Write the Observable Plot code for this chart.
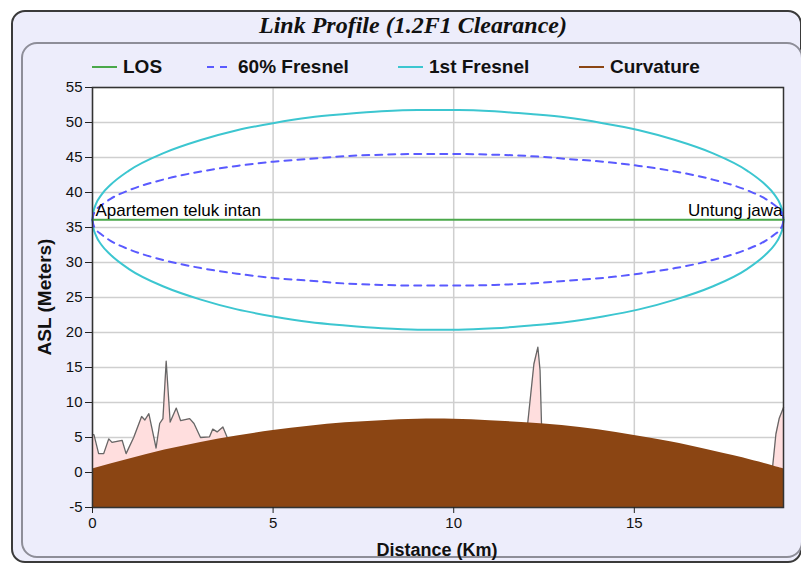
<!DOCTYPE html>
<html><head><meta charset="utf-8">
<script src="https://cdn.jsdelivr.net/npm/d3@7"></script>
<script src="https://cdn.jsdelivr.net/npm/@observablehq/plot@0.6"></script>
<style>
body{margin:0;background:#fff;font-family:"Liberation Sans",Arial,sans-serif;}
#root{position:relative;width:801px;height:566px;overflow:hidden;background:#fff;}
.outer{position:absolute;left:11px;top:10px;width:791px;height:553px;box-sizing:border-box;border:2px solid #3a3a3a;border-radius:14px;background:#ededfb;}
.inner{position:absolute;left:21px;top:42px;width:782px;height:516px;box-sizing:border-box;border:2px solid #8e8e98;border-radius:16px;background:#ededfb;}
.title{position:absolute;left:213px;top:10px;width:400px;text-align:center;font-family:"Liberation Serif","Times New Roman",serif;font-style:italic;font-weight:bold;font-size:24px;color:#111;line-height:30px;}
.leg{position:absolute;top:56px;height:22px;display:flex;align-items:center;font-weight:bold;font-size:19px;color:#111;white-space:nowrap;}
.leg svg{margin-right:6px;}
.axt{position:absolute;font-weight:bold;font-size:18px;color:#111;white-space:nowrap;}
#chart{position:absolute;left:21px;top:70px;}
</style></head>
<body><div id="root">
<div class="outer"></div>
<div class="inner"></div>
<div class="title">Link Profile (1.2F1 Clearance)</div>
<div id="legend"></div>
<div class="axt" id="ylab" style="left:45px;top:297px;font-size:19px;transform:translate(-50%,-50%) rotate(-90deg);">ASL (Meters)</div>
<div class="axt" style="left:437px;top:550px;transform:translate(-50%,-50%);">Distance (Km)</div>
<div id="chart"></div>
</div>
<script>
// ---- data ----
const siteNames = ["Apartemen teluk intan", "Untung jawa"];
const losDist = [0, 19.13];
const losHeight = [36.1, 36.1];

const fresnelDist = [0, 0.02, 0.1, 0.25, 0.5, 1, 2, 3, 4, 5, 6, 7, 8, 9, 9.565, 10.13, 11.13, 12.13, 13.13, 14.13, 15.13, 16.13, 17.13, 18.13, 18.63, 18.88, 19.03, 19.11, 19.13];
const fresnel1Radius = [0, 1.0, 2.3, 3.6, 5.0, 7.0, 9.6, 11.4, 12.8, 13.8, 14.6, 15.1, 15.5, 15.7, 15.7, 15.7, 15.5, 15.1, 14.6, 13.8, 12.8, 11.4, 9.6, 7.0, 5.0, 3.6, 2.3, 1.0, 0];
const fresnel60Radius = [0, 0.6, 1.4, 2.1, 3.0, 4.2, 5.8, 6.9, 7.7, 8.3, 8.7, 9.1, 9.3, 9.4, 9.4, 9.4, 9.3, 9.1, 8.7, 8.3, 7.7, 6.9, 5.8, 4.2, 3.0, 2.1, 1.4, 0.6, 0];

const curvDist = [0, 1, 2, 3, 4, 5, 6, 7, 8, 9, 10, 11, 12, 13, 14, 15, 16, 17, 18, 19, 19.13];
const curvHeight = [0.5, 1.9, 3.2, 4.3, 5.2, 6.0, 6.6, 7.1, 7.4, 7.6, 7.6, 7.4, 7.1, 6.7, 6.1, 5.3, 4.4, 3.3, 2.1, 0.7, 0.5];

const terrainDist = [0, 0.04, 0.17, 0.31, 0.45, 0.54, 0.82, 0.93, 1.14, 1.36, 1.45, 1.56, 1.76, 1.86, 1.95, 2.04, 2.15, 2.32, 2.44, 2.69, 2.81, 2.99, 3.24, 3.33, 3.45, 3.61, 3.73, 3.9, 5, 7, 9, 11, 11.95, 12.05, 12.22, 12.33, 12.39, 12.43, 12.55, 14, 16, 18, 18.8, 18.83, 18.92, 19.01, 19.13];
const terrainHeight = [5.4, 5.4, 2.7, 2.7, 4.8, 4.3, 4.6, 2.7, 5.0, 8.0, 7.5, 8.4, 3.5, 7.0, 7.7, 15.9, 7.2, 9.2, 7.4, 7.7, 7.0, 5.0, 5.1, 6.2, 5.8, 6.5, 5.0, 4.0, 3.5, 4.0, 5.0, 5.0, 6.0, 7.1, 15.5, 17.9, 14.6, 7.0, 5.5, 4.0, 2.5, 1.0, 0.3, 0.9, 5.5, 7.7, 9.3];

const xTicks = [0, 5, 10, 15];
const yTicks = [-5, 0, 5, 10, 15, 20, 25, 30, 35, 40, 45, 50, 55];

const legendLabels = ["LOS", "60% Fresnel", "1st Fresnel", "Curvature"];
const legendColors = ["#4aa84a", "#5a5aff", "#3cc6d0", "#8b4513"];
const legendDashed = [false, true, false, false];
const legendLeft = [92, 207, 398, 579];

// ---- tables ----
const los = losDist.map((d, i) => ({d, h: losHeight[i]}));
const fres = fresnelDist.map((d, i) => ({
  d,
  up1: losHeight[0] + fresnel1Radius[i], lo1: losHeight[0] - fresnel1Radius[i],
  up6: losHeight[0] + fresnel60Radius[i], lo6: losHeight[0] - fresnel60Radius[i]
}));
const curv = curvDist.map((d, i) => ({d, h: curvHeight[i]}));
const terrain = terrainDist.map((d, i) => ({d, h: terrainHeight[i]}));
const sites = [
  {d: losDist[0], h: losHeight[0], name: siteNames[0]},
  {d: losDist[1], h: losHeight[1], name: siteNames[1]}
];

// ---- legend ----
const leg = document.getElementById("legend");
legendLabels.forEach((lab, i) => {
  const div = document.createElement("div");
  div.className = "leg";
  div.style.left = legendLeft[i] + "px";
  div.innerHTML = `<svg width="25" height="6"><line x1="0" y1="3" x2="25" y2="3" stroke="${legendColors[i]}" stroke-width="2" ${legendDashed[i] ? 'stroke-dasharray="7,6"' : ''}/></svg><span>${lab}</span>`;
  leg.appendChild(div);
});

// ---- chart ----
const chart = Plot.plot({
  width: 775,
  height: 490,
  marginLeft: 71,
  marginRight: 13,
  marginTop: 17,
  marginBottom: 53,
  style: {background: "transparent", fontFamily: "Liberation Sans, Arial, sans-serif", fontSize: "15px", color: "#111"},
  x: {domain: [0, 19.13]},
  y: {domain: [-5, 55]},
  marks: [
    Plot.frame({fill: "white", stroke: null}),
    Plot.gridX(xTicks, {stroke: "#cfcfcf", strokeOpacity: 1, strokeWidth: 1.5}),
    Plot.gridY(yTicks, {stroke: "#cfcfcf", strokeOpacity: 1, strokeWidth: 1.5}),
    Plot.areaY(terrain, {x: "d", y1: -5, y2: "h", fill: "#ffdede"}),
    Plot.line(terrain, {x: "d", y: "h", stroke: "#666", strokeWidth: 1.3}),
    Plot.areaY(curv, {x: "d", y1: -5, y2: "h", fill: "#8b4513", curve: "natural"}),
    Plot.line(fres, {x: "d", y: "up1", stroke: "#3cc6d0", strokeWidth: 2, curve: "monotone-x"}),
    Plot.line(fres, {x: "d", y: "lo1", stroke: "#3cc6d0", strokeWidth: 2, curve: "monotone-x"}),
    Plot.line(fres, {x: "d", y: "up6", stroke: "#5a5aff", strokeWidth: 2, strokeDasharray: "7,6", curve: "monotone-x"}),
    Plot.line(fres, {x: "d", y: "lo6", stroke: "#5a5aff", strokeWidth: 2, strokeDasharray: "7,6", curve: "monotone-x"}),
    Plot.line(los, {x: "d", y: "h", stroke: "#4aa84a", strokeWidth: 2}),
    Plot.text([sites[0]], {x: "d", y: "h", text: "name", textAnchor: "start", lineAnchor: "bottom", dx: 3, dy: -4, fontSize: 17, fill: "#000"}),
    Plot.text([sites[1]], {x: "d", y: "h", text: "name", textAnchor: "end", lineAnchor: "bottom", dx: -1, dy: -4, fontSize: 17, fill: "#000"}),
    Plot.frame({stroke: "#333", strokeWidth: 1.5}),
    Plot.axisX(xTicks, {tickSize: 6, tickPadding: 4, label: null, stroke: "#222", tickFormat: d => String(d)}),
    Plot.axisY(yTicks, {tickSize: 7, tickPadding: 3, label: null, stroke: "#222", tickFormat: d => String(d)})
  ]
});
document.getElementById("chart").appendChild(chart);
</script>
</body></html>
